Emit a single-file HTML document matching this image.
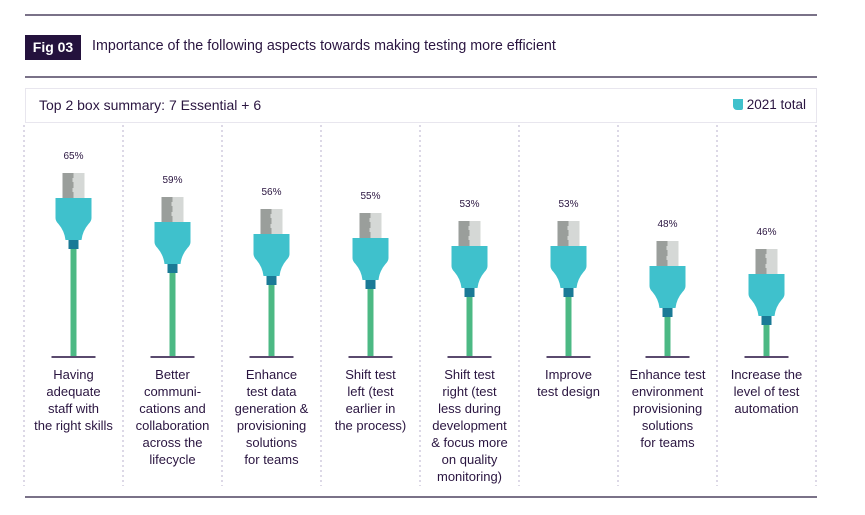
<!DOCTYPE html>
<html><head><meta charset="utf-8"><style>
body{margin:0;width:865px;height:515px;background:#fff;font-family:"Liberation Sans",sans-serif;overflow:hidden;position:relative}
.hl{position:absolute;left:25px;width:792px;height:2px;background:#7a7288}
#fig{position:absolute;left:25px;top:35px;width:56px;height:25px;background:#24123d;color:#fff;font-size:14px;font-weight:bold;line-height:25px;text-align:center}
#title{position:absolute;left:92px;top:38px;font-size:14.3px;color:#2a1540}
#hdr{position:absolute;left:25px;top:88px;width:790px;height:33px;border:1px solid #e8e6ee}
#sub{position:absolute;left:13px;top:8px;font-size:14px;color:#2a1540}
#leg{position:absolute;right:10px;top:8px;font-size:13.5px;color:#2a1540}
#leg i{display:inline-block;width:10px;height:11px;background:#3fc1cc;vertical-align:-1px;margin-right:4px;border-radius:0 0 2px 4px}
</style></head><body>
<div class="hl" style="top:14px"></div>
<div id="fig">Fig 03</div>
<div id="title">Importance of the following aspects towards making testing more efficient</div>
<div class="hl" style="top:76px"></div>
<div id="hdr">
<div id="sub">Top 2 box summary: 7 Essential + 6</div>
<div id="leg"><i></i>2021 total</div>
</div>
<svg id="chart" width="865" height="515" style="position:absolute;left:0;top:0"></svg>
<div class="hl" style="top:496px"></div>
<script>
const categories=[["Having","adequate","staff with","the right skills"],["Better","communi-","cations and","collaboration","across the","lifecycle"],["Enhance","test data","generation &","provisioning","solutions","for teams"],["Shift test","left (test","earlier in","the process)"],["Shift test","right (test","less during","development","& focus more","on quality","monitoring)"],["Improve","test design"],["Enhance test","environment","provisioning","solutions","for teams"],["Increase the","level of test","automation"]];
const values=[65,59,56,55,53,53,48,46];
const valueLabels=["65%","59%","56%","55%","53%","53%","48%","46%"];
const NS="http://www.w3.org/2000/svg",svg=document.getElementById('chart');
const colW=99,x0=24,baseY=357;
const xC=i=>x0+colW*i+colW/2;
const yTop=v=>433-4*v;
function mk(t,a){const e=document.createElementNS(NS,t);for(const k in a)e.setAttribute(k,a[k]);svg.appendChild(e);return e;}
for(let i=0;i<=categories.length;i++){
 const l=mk('line',{x1:x0+colW*i,x2:x0+colW*i,y1:125,y2:486,stroke:'#b9b2cc','stroke-width':1,'stroke-dasharray':'2 3'});
 
 
}
values.forEach((v,i)=>{
 const cx=xC(i),t=yTop(v);
 const g=document.createElementNS(NS,'g');svg.appendChild(g);
 
 
 const add=(tag,a)=>{const e=document.createElementNS(NS,tag);for(const k in a)e.setAttribute(k,a[k]);g.appendChild(e);return e;};
 add('rect',{x:cx-3,y:t+74,width:6,height:baseY-t-74,fill:'#4cb984'});
 add('rect',{x:cx-11,y:t,width:11,height:25,fill:'#9a9e9b'});
 add('rect',{x:cx,y:t,width:11,height:25,fill:'#d5d8d6'});
 add('path',{d:`M${cx-1} ${t+5}h3v4h-3zM${cx-1} ${t+15}h3v4h-3z`,fill:'#d5d8d6'});
 add('path',{d:`M${cx-18} ${t+25}H${cx+18}V${t+45}Q${cx+18} ${t+48} ${cx+15} ${t+51}Q${cx+9} ${t+58} ${cx+8} ${t+67}H${cx-8}Q${cx-9} ${t+58} ${cx-15} ${t+51}Q${cx-18} ${t+48} ${cx-18} ${t+45}Z`,fill:'#3fc1cc'});
 add('rect',{x:cx-5,y:t+67,width:10,height:9,fill:'#1a7a96'});
 add('rect',{x:cx-22,y:baseY-1,width:44,height:2,fill:'#5a4a6e'});
 const lab=add('text',{x:cx,y:t-14,'text-anchor':'middle','font-size':10,fill:'#2a1540','font-family':'Liberation Sans'});
 lab.textContent=valueLabels[i];
 
 
 categories[i].forEach((s,j)=>{
  const tx=mk('text',{x:cx,y:379+j*17,'text-anchor':'middle','font-size':13,fill:'#2a1540','font-family':'Liberation Sans'});
  tx.textContent=s;
  
  
 });
});
</script>
</body></html>
